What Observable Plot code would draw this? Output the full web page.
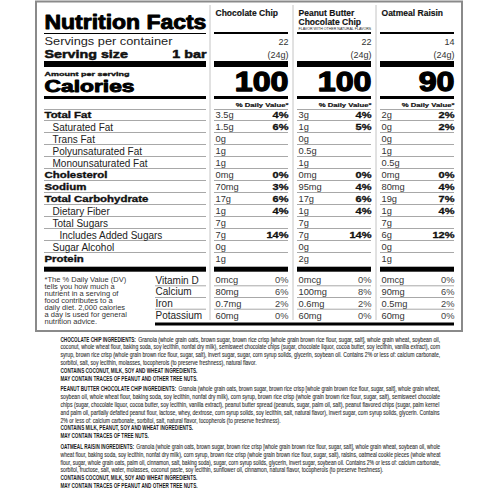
<!DOCTYPE html>
<html><head><meta charset="utf-8">
<script src="https://cdn.jsdelivr.net/npm/d3@7"></script>
<script src="https://cdn.jsdelivr.net/npm/@observablehq/plot@0.6"></script>
<style>html,body{margin:0;padding:0;background:#fff;} svg{display:block;}</style>
</head><body><div id="chart"></div>
<script>
// ---------------- DATA ----------------
const products = ["Chocolate Chip", "Peanut Butter Chocolate Chip", "Oatmeal Raisin"];
const productTitleLines = [["Chocolate Chip"], ["Peanut Butter", "Chocolate Chip"], ["Oatmeal Raisin"]];
const productNotes = ["", "FLAVOR WITH OTHER NATURAL FLAVORS", ""];
const servingsPerContainer = [22, 22, 14];
const servingSizes = ["(24g)", "(24g)", "(24g)"];
const calories = [100, 100, 90];

const nutrients = ["Total Fat", "Saturated Fat", "Trans Fat", "Polyunsaturated Fat", "Monounsaturated Fat",
  "Cholesterol", "Sodium", "Total Carbohydrate", "Dietary Fiber", "Total Sugars", "Includes Added Sugars",
  "Sugar Alcohol", "Protein"];
const nutrientLevels = [0, 1, 1, 1, 1, 0, 0, 0, 1, 1, 2, 1, 0];

const amountsChocolateChip = ["3.5g", "1.5g", "0g", "1g", "1g", "0mg", "70mg", "17g", "1g", "7g", "7g", "0g", "1g"];
const dailyValuesChocolateChip = ["4%", "6%", "", "", "", "0%", "3%", "6%", "4%", "", "14%", "", ""];
const amountsPeanutButter = ["3g", "1g", "0g", "0.5g", "1g", "0mg", "95mg", "17g", "1g", "7g", "7g", "0g", "2g"];
const dailyValuesPeanutButter = ["4%", "5%", "", "", "", "0%", "4%", "6%", "4%", "", "14%", "", ""];
const amountsOatmealRaisin = ["2g", "0g", "0g", "1g", "0.5g", "0mg", "80mg", "19g", "1g", "7g", "6g", "0g", "1g"];
const dailyValuesOatmealRaisin = ["2%", "2%", "", "", "", "0%", "4%", "7%", "4%", "", "12%", "", ""];

const vitamins = ["Vitamin D", "Calcium", "Iron", "Potassium"];
const vitaminAmountsChocolateChip = ["0mcg", "80mg", "0.7mg", "60mg"];
const vitaminDVChocolateChip = ["0%", "6%", "2%", "0%"];
const vitaminAmountsPeanutButter = ["0mcg", "100mg", "0.6mg", "60mg"];
const vitaminDVPeanutButter = ["0%", "8%", "2%", "0%"];
const vitaminAmountsOatmealRaisin = ["0mcg", "90mg", "0.5mg", "60mg"];
const vitaminDVOatmealRaisin = ["0%", "6%", "2%", "0%"];

const footnoteLines = ["*The % Daily Value (DV)", "tells you how much a", "nutrient in a serving of",
  "food contributes to a", "daily diet. 2,000 calories", "a day is used for general", "nutrition advice."];

const ingredientHeads = ["CHOCOLATE CHIP INGREDIENTS:", "PEANUT BUTTER CHOCOLATE CHIP INGREDIENTS:", "OATMEAL RAISIN INGREDIENTS:"];
const ingredientLinesChocolateChip = [
  "Granola (whole grain oats, brown sugar, brown rice crisp [whole grain brown rice flour, sugar, salt], whole grain wheat, soybean oil,",
  "coconut, whole wheat flour, baking soda, soy lecithin, nonfat dry milk), semisweet chocolate chips (sugar, chocolate liquor, cocoa butter, soy lecithin, vanilla extract), corn",
  "syrup, brown rice crisp (whole grain brown rice flour, sugar, salt), invert sugar, sugar, corn syrup solids, glycerin, soybean oil. Contains 2% or less of: calcium carbonate,",
  "sorbitol, salt, soy lecithin, molasses, tocopherols (to preserve freshness), natural flavor."];
const allergensChocolateChip = ["CONTAINS COCONUT, MILK, SOY AND WHEAT INGREDIENTS.", "MAY CONTAIN TRACES OF PEANUT AND OTHER TREE NUTS."];
const ingredientLinesPeanutButter = [
  "Granola (whole grain oats, brown sugar, brown rice crisp [whole grain brown rice flour, sugar, salt], whole grain wheat,",
  "soybean oil, whole wheat flour, baking soda, soy lecithin, nonfat dry milk), corn syrup, brown rice crisp (whole grain brown rice flour, sugar, salt), semisweet chocolate",
  "chips (sugar, chocolate liquor, cocoa butter, soy lecithin, vanilla extract), peanut butter spread (peanuts, sugar, palm oil, salt), peanut flavored chips (sugar, palm kernel",
  "and palm oil, partially defatted peanut flour, lactose, whey, dextrose, corn syrup solids, soy lecithin, salt, natural flavor), invert sugar, corn syrup solids, glycerin. Contains",
  "2% or less of: calcium carbonate, sorbitol, salt, natural flavor, tocopherols (to preserve freshness)."];
const allergensPeanutButter = ["CONTAINS MILK, PEANUT, SOY AND WHEAT INGREDIENTS.", "MAY CONTAIN TRACES OF TREE NUTS."];
const ingredientLinesOatmealRaisin = [
  "Granola (whole grain oats, brown sugar, brown rice crisp [whole grain brown rice flour, sugar, salt], whole grain wheat, soybean oil, whole",
  "wheat flour, baking soda, soy lecithin, nonfat dry milk), corn syrup, brown rice crisp (whole grain brown rice flour, sugar, salt), raisins, oatmeal cookie pieces (whole wheat",
  "flour, sugar, whole grain oats, palm oil, cinnamon, salt, baking soda), sugar, corn syrup solids, glycerin, invert sugar, soybean oil. Contains 2% or less of: calcium carbonate,",
  "sorbitol, fructose, salt, water, molasses, coconut paste, soy lecithin, sunflower oil, cinnamon, natural flavor, tocopherols (to preserve freshness)."];
const allergensOatmealRaisin = ["CONTAINS COCONUT, MILK, SOY AND WHEAT INGREDIENTS.", "MAY CONTAIN TRACES OF PEANUT AND OTHER TREE NUTS."];

// ---------------- LAYOUT ----------------
const SANS = '"Liberation Sans", Arial, Helvetica, sans-serif';
const BORDER = {x1: 36, x2: 462, y1: 1.5, y2: 331};
const LABEL = {x1: 44, x2: 206};
const COLS = [{x1: 214, x2: 288}, {x1: 297, x2: 371}, {x1: 380, x2: 454}];
const DIVIDERS = [209.5, 292.5, 375.5];
const ROW0 = 115, ROWH = 12;
const VIT0 = 280, VITH = 11.7, VITX = 155;
const INGX = 60, INGX2 = 440, ING0 = 339, INGH = 7.8, INGGAP = 3;

const perProduct = [
  {amounts: amountsChocolateChip, dv: dailyValuesChocolateChip, vAmounts: vitaminAmountsChocolateChip, vDV: vitaminDVChocolateChip,
   head: ingredientHeads[0], lines: ingredientLinesChocolateChip, allergens: allergensChocolateChip},
  {amounts: amountsPeanutButter, dv: dailyValuesPeanutButter, vAmounts: vitaminAmountsPeanutButter, vDV: vitaminDVPeanutButter,
   head: ingredientHeads[1], lines: ingredientLinesPeanutButter, allergens: allergensPeanutButter},
  {amounts: amountsOatmealRaisin, dv: dailyValuesOatmealRaisin, vAmounts: vitaminAmountsOatmealRaisin, vDV: vitaminDVOatmealRaisin,
   head: ingredientHeads[2], lines: ingredientLinesOatmealRaisin, allergens: allergensOatmealRaisin}
];

// ---------------- HELPERS ----------------
const ctx = document.createElement("canvas").getContext("2d");
function natural(t, s) { ctx.font = `${s.weight || "normal"} ${s.size}px ${SANS}`; return ctx.measureText(String(t)).width; }
const marks = [];
const fitFactor = new Map();
let textId = 0;
function addText(rows, style) {
  rows = rows.filter(r => r.text !== "" && r.text != null).map(r => {
    const text = String(r.text);
    const id = "t" + (textId++);
    const f = r.target != null ? r.target / natural(text, style) : style.factor;
    if (f) fitFactor.set(id, f);
    return {...r, text, id};
  });
  const fill = style.fill || "#111";
  const opts = {x: "x", y: "y", text: "text", textAnchor: style.anchor || "start", lineAnchor: style.lineAnchor || "middle",
    fontSize: style.size, fontWeight: style.weight || "normal", fontFamily: SANS, fill, ariaLabel: "id"};
  if (style.lineHeight) opts.lineHeight = style.lineHeight;
  if (style.heavy) Object.assign(opts, {stroke: fill, strokeWidth: style.heavy, strokeLinejoin: "round"});
  marks.push(Plot.text(rows, opts));
}
function addBars(rows, fill) {
  marks.push(Plot.rect(rows, {x1: "x1", x2: "x2", y1: "y1", y2: "y2", fill}));
}
const allSpans = [LABEL, ...COLS];
function hbar(list, y1, y2, xs = allSpans) { xs.forEach(s => list.push({x1: s.x1, x2: s.x2, y1, y2})); }

// ---------------- FRAME & RULES ----------------
marks.push(Plot.rect([BORDER], {x1: "x1", x2: "x2", y1: "y1", y2: "y2", fill: "none", stroke: "#8a8a8a", strokeWidth: 2}));
marks.push(Plot.ruleX(DIVIDERS, {x: d => d, y1: 5, y2: 320, stroke: "#c4c4c4", strokeWidth: 1}));

const black = [], grey = [];
black.push({x1: LABEL.x1, x2: LABEL.x2, y1: 33, y2: 34});
hbar(black, 32, 34, COLS);
hbar(black, 61, 67);
hbar(black, 96, 99);
hbar(grey, 109, 110);
nutrients.forEach((n, i) => { if (i < nutrients.length - 1) hbar(grey, ROW0 + ROWH * i + 5, ROW0 + ROWH * i + 6); });
hbar(black, 266.7, 271.7);
const vitSpans = [{x1: VITX, x2: LABEL.x2}, ...COLS];
vitamins.forEach((v, i) => { if (i < vitamins.length - 1) hbar(grey, VIT0 + VITH * i + 5.3, VIT0 + VITH * i + 6.3, vitSpans); });
black.push({x1: VITX, x2: COLS[2].x2, y1: 322.5, y2: 325.5});
addBars(grey, "#a8a8a8");
addBars(black, "#000");

// ---------------- LEFT LABELS ----------------
addText([{x: LABEL.x1, y: 22.2, text: "Nutrition Facts", target: LABEL.x2 - LABEL.x1}], {size: 20, weight: "bold", heavy: 0.9, fill: "#000"});
addText([{x: LABEL.x1, y: 41.3, text: "Servings per container", target: 128}], {size: 11, fill: "#222"});
addText([{x: LABEL.x1, y: 53.6, text: "Serving size"}], {size: 11, weight: "bold", factor: 1.3, heavy: 0.5});
addText([{x: LABEL.x2, y: 53.6, text: "1 bar"}], {size: 11, weight: "bold", factor: 1.3, anchor: "end", heavy: 0.5});
addText([{x: LABEL.x1, y: 73.4, text: "Amount per serving", target: 85}], {size: 5.6, weight: "bold", heavy: 0.3});
addText([{x: LABEL.x1, y: 86.3, text: "Calories", target: 90}], {size: 16.2, weight: "bold", heavy: 0.9, fill: "#000"});

const indentX = [LABEL.x1, LABEL.x1 + 8, LABEL.x1 + 15];
const nutrientRows = nutrients.map((n, i) => ({x: indentX[nutrientLevels[i]], y: ROW0 + ROWH * i, text: n, level: nutrientLevels[i]}));
addText(nutrientRows.filter(d => d.level === 0), {size: 8.8, weight: "bold", factor: 1.3, heavy: 0.35});
addText(nutrientRows.filter(d => d.level > 0), {size: 10, fill: "#222"});
addText([{x: LABEL.x1, y: 276.4, text: footnoteLines.join("\n")}],
  {size: 6.5, fill: "#333", factor: 1.16, lineAnchor: "top", lineHeight: 6.95 / 6.5});
addText(vitamins.map((t, i) => ({x: VITX, y: VIT0 + VITH * i, text: t})), {size: 10, fill: "#222"});

// ---------------- PRODUCT COLUMNS ----------------
products.forEach((name, p) => {
  const c = COLS[p], d = perProduct[p];
  addText([{x: c.x1 + 1, y: 8.8, text: productTitleLines[p].join("\n")}],
    {size: 8.2, weight: "bold", factor: 1.04, lineAnchor: "top", lineHeight: 9.2 / 8.2, heavy: 0.15});
  addText([{x: c.x1 + 1, y: 28.5, text: productNotes[p], target: 73}], {size: 4, fill: "#222"});
  addText([{x: c.x2, y: 42, text: servingsPerContainer[p]}], {size: 9, fill: "#333", anchor: "end"});
  addText([{x: c.x2, y: 54.5, text: servingSizes[p]}], {size: 9, fill: "#333", anchor: "end"});
  addText([{x: c.x2, y: 82, text: calories[p]}], {size: 28, weight: "bold", factor: 1.15, anchor: "end", fill: "#000", heavy: 1.3});
  addText([{x: c.x2, y: 104.3, text: "% Daily Value*"}], {size: 6.2, weight: "bold", factor: 1.25, anchor: "end", heavy: 0.2});
  addText(d.amounts.map((t, i) => ({x: c.x1 + 1, y: ROW0 + ROWH * i, text: t})), {size: 9.3, fill: "#333"});
  addText(d.dv.map((t, i) => ({x: c.x2, y: ROW0 + ROWH * i, text: t})), {size: 8.8, weight: "bold", factor: 1.25, anchor: "end", heavy: 0.3});
  addText(d.vAmounts.map((t, i) => ({x: c.x1 + 1, y: VIT0 + VITH * i, text: t})), {size: 9.3, fill: "#333"});
  addText(d.vDV.map((t, i) => ({x: c.x2, y: VIT0 + VITH * i, text: t})), {size: 9.3, fill: "#444", anchor: "end"});
});

// ---------------- INGREDIENTS ----------------
const regStyle = {size: 6.8, weight: "normal"}, boldStyle = {size: 6.8, weight: "bold"};
const BOLD_F = 0.68;
const ingrReg = [], ingrBold = [];
let yy = ING0;
perProduct.forEach(d => {
  d.lines.forEach((line, i) => {
    let x = INGX;
    if (i === 0) {
      const hw = natural(d.head, boldStyle) * BOLD_F;
      ingrBold.push({x: INGX, y: yy, text: d.head, target: hw});
      x = INGX + hw + 2;
    }
    const justified = i < d.lines.length - 1;
    ingrReg.push({x, y: yy, text: line, target: justified ? INGX2 - x : null, nat: natural(line, regStyle)});
    yy += INGH;
  });
  d.allergens.forEach(a => { ingrBold.push({x: INGX, y: yy, text: a, target: natural(a, boldStyle) * BOLD_F}); yy += INGH; });
  yy += INGGAP;
});
const regF = d3.mean(ingrReg.filter(r => r.target != null), r => r.target / r.nat);
ingrReg.forEach(r => { if (r.target == null) r.target = r.nat * regF; });
addText(ingrReg, {size: 6.8, fill: "#333", heavy: 0.12});
addText(ingrBold, {size: 6.8, weight: "bold", fill: "#1a1a1a"});

// ---------------- PLOT ----------------
const svg = Plot.plot({
  width: 500, height: 500, margin: 0,
  x: {domain: [0, 500], range: [0, 500], axis: null},
  y: {domain: [0, 500], range: [0, 500], axis: null},
  style: {background: "#fff", fontFamily: SANS},
  marks
});
document.getElementById("chart").append(svg);
// horizontal fitting: scale each text about its own anchor point
svg.querySelectorAll("text[aria-label]").forEach(n => {
  const f = fitFactor.get(n.getAttribute("aria-label"));
  if (!f) return;
  let tr = n.getAttribute("transform");
  if (!tr) {
    const x = +(n.getAttribute("x") || 0), y = +(n.getAttribute("y") || 0);
    n.removeAttribute("x"); n.removeAttribute("y");
    tr = `translate(${x},${y})`;
  }
  n.setAttribute("transform", `${tr} scale(${f.toFixed(4)},1)`);
});
</script>
</body></html>
